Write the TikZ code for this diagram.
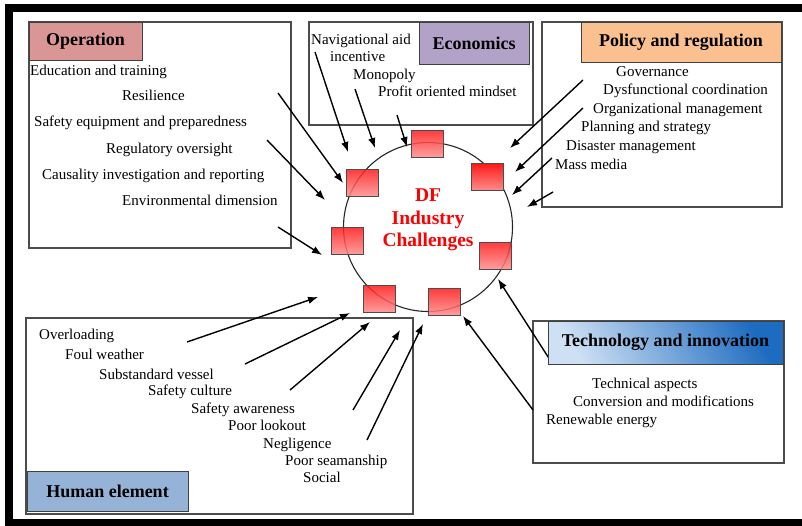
\documentclass[tikz,border=0pt]{standalone}
\usepackage{fontspec}
\setmainfont{Liberation Serif}
\usepackage{tikz}
\usetikzlibrary{arrows.meta}
\tikzset{>={Latex[length=10pt,width=7.5pt]}}
\usepackage{xcolor}
\definecolor{opcol}{RGB}{217,150,148}
\definecolor{ecocol}{RGB}{179,162,199}
\definecolor{polcol}{RGB}{250,192,144}
\definecolor{humcol}{RGB}{149,179,215}
\definecolor{techlight}{RGB}{206,224,244}
\definecolor{techdark}{RGB}{30,108,192}
\colorlet{linecol}{black!70}
\tikzstyle{panel}=[draw=linecol,line width=1.1pt]
\tikzstyle{header}=[draw=black!75,line width=1pt,inner sep=0pt,
                    font=\bfseries\fontsize{18}{22}\selectfont]
\tikzstyle{item}=[anchor=west,inner sep=0pt,text height=13pt,text depth=0pt,
                  font=\fontsize{15}{18}\selectfont]
\tikzstyle{link}=[->,line width=1.4pt]
\tikzset{
  cell/.style={draw=black!70,line width=0.9pt,minimum width=32,minimum height=27,
               inner sep=0pt,top color=red!90,bottom color=red!45,fill opacity=0.85},
  cell/.default=}

\begin{document}
\begin{tikzpicture}[x=1pt,y=-1pt]
  \useasboundingbox (0,0) rectangle (802,525);

  % FRAME
  \draw[line width=8pt] (9,8) rectangle (808,523);

  % PANELS
  \draw[panel] (29,22) rectangle (291,248);
  \draw[panel] (309,22) rectangle (533,125);
  \draw[panel] (542,22) rectangle (782,207);
  \draw[panel] (533,321) rectangle (784,463);
  \draw[panel] (26,318) rectangle (413,514);

  % ARROWS
  \foreach \x/\y/\u/\v [count=\i] in {
      278/93/343/183, 267/140/325/200, 278/227/322/255,
      315/52/348/152, 355/89/375/148, 397/115/407/147,
      583/80/510/148, 583/108/515/172, 552/158/512/195, 553/192/527/207,
      552/363/498/279, 533/410/463/316,
      187/342/318/297, 245/364/350/313, 290/390/370/322,
      353/410/400/330, 367/440/423/324}{
    \coordinate (from\i) at (\x,\y);
    \coordinate (to\i) at (\u,\v);
    \draw[link] (from\i) -- (to\i);
  }

  % HEADERS
  \node[header,fill=opcol,minimum width=113,minimum height=38] (ophead) at (85.5,41) {Operation};
  \node[header,fill=ecocol,minimum width=110,minimum height=42] (ecohead) at (474,43) {Economics};
  \node[header,fill=polcol,minimum width=200,minimum height=40] (polhead) at (681,42) {Policy and regulation};
  \node[header,top color=techdark,bottom color=techlight,shading angle=-60,
        minimum width=235,minimum height=43] (techhead) at (665.5,342.5) {Technology and innovation};
  \node[header,fill=humcol,minimum width=161,minimum height=40] (humhead) at (107.5,491) {Human element};

  % CHALLENGES
  \node[draw=black!85,line width=1.1pt,circle,minimum size=169,inner sep=0pt] (ring) at (428,227) {};
  \node[align=center,text=red,font=\bfseries\fontsize{19.5}{22.5}\selectfont] (df) at (428,220)
    {DF\\Industry\\Challenges};

  \node[cell] (c1) at (427,143.5) {};
  \node[cell,fill=red,fill opacity=1] (c2) at (487,177) {};
  \node[cell] (c3) at (362,182.5) {};
  \node[cell] (c4) at (347,241) {};
  \node[cell] (c5) at (495,255.5) {};
  \node[cell] (c6) at (379,299) {};
  \node[cell] (c7) at (444.5,302) {};

  % FACTORS
  \foreach \x/\y/\t [count=\i] in {
      30/69/Education and training, 122/94/Resilience,
      34/120/Safety equipment and preparedness, 106/147/Regulatory oversight,
      42/173/Causality investigation and reporting, 122/199/Environmental dimension}{
    \node[item] (op\i) at (\x,\y) {\t};
  }
  \foreach \x/\y/\t [count=\i] in {
      311/38/Navigational aid, 330/55/incentive, 353/73/Monopoly,
      378/90/Profit oriented mindset}{
    \node[item] (eco\i) at (\x,\y) {\t};
  }
  \foreach \x/\y/\t [count=\i] in {
      616/70/Governance, 603/88/Dysfunctional coordination,
      593/107/Organizational management, 581/125/Planning and strategy,
      566/144/Disaster management, 555/163/Mass media}{
    \node[item] (pol\i) at (\x,\y) {\t};
  }
  \foreach \x/\y/\t [count=\i] in {
      592/382/Technical aspects, 573/400/Conversion and modifications,
      546/418/Renewable energy}{
    \node[item] (tech\i) at (\x,\y) {\t};
  }
  \foreach \x/\y/\t [count=\i] in {
      39/333/Overloading, 65/353/Foul weather, 99/373/Substandard vessel,
      148/389/Safety culture, 191/407/Safety awareness, 228/424/Poor lookout,
      263/442/Negligence, 285/459/Poor seamanship, 303/476/Social}{
    \node[item] (hum\i) at (\x,\y) {\t};
  }

\end{tikzpicture}
\end{document}
